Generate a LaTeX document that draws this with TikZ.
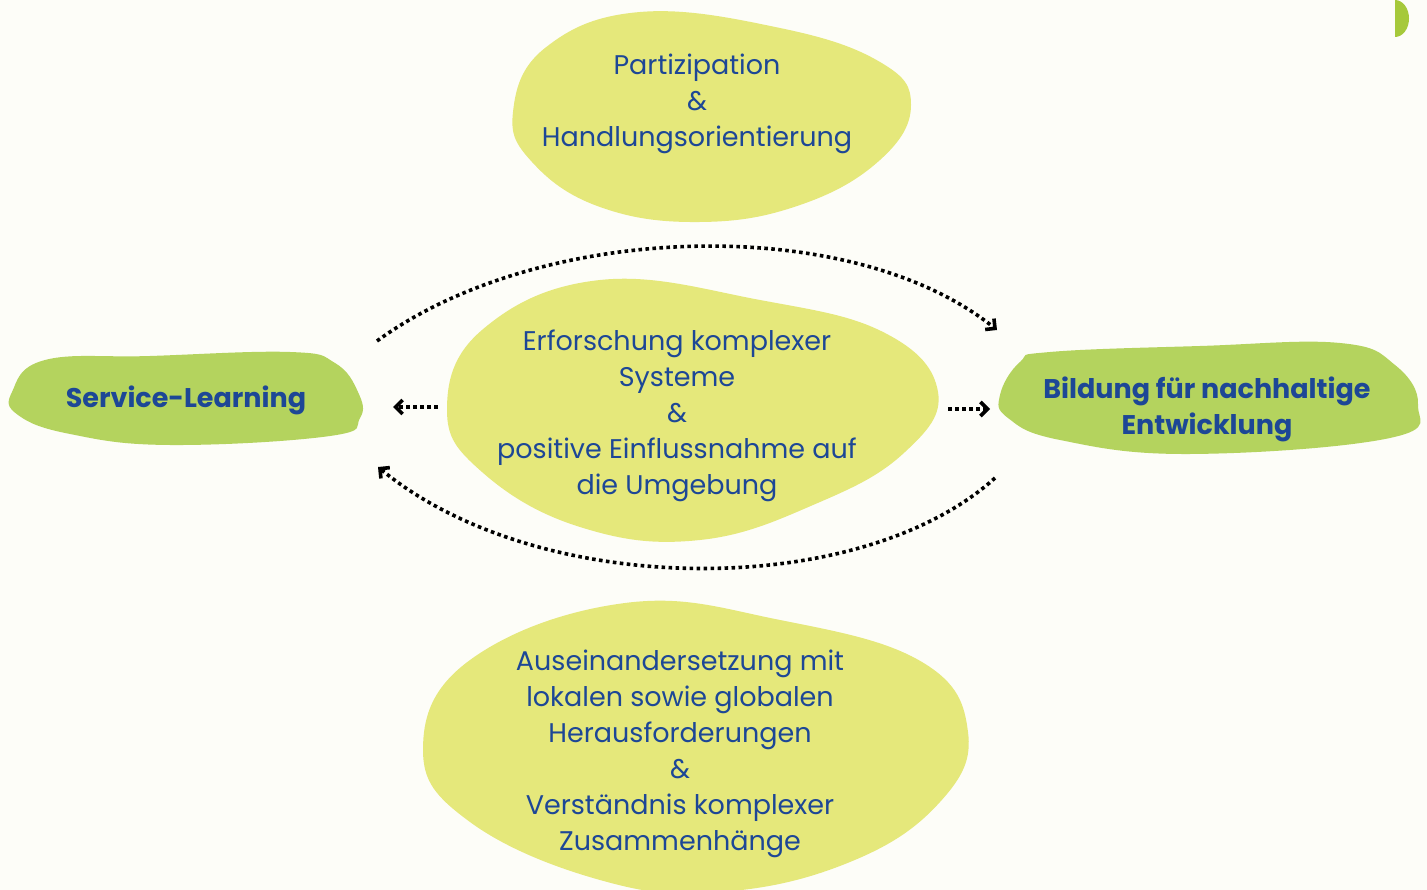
\documentclass[tikz,border=0pt]{standalone}
\usepackage{fontspec}
\setmainfont{Poppins}
\usetikzlibrary{arrows.meta}
\definecolor{bg}{HTML}{FDFDF8}
\definecolor{lightblob}{HTML}{E5E87B}
\definecolor{greenblob}{HTML}{B4D35E}
\definecolor{corner}{HTML}{A6C93B}
\definecolor{txtblue}{HTML}{1D4796}
\tikzset{
  blobA/.style={fill=lightblob, draw=none},
  blobB/.style={fill=greenblob, draw=none},
  lbl/.style={text=txtblue, align=center, font=\fontsize{27}{36}\selectfont, inner sep=0pt},
  blbl/.style={text=txtblue, align=center, font=\fontsize{27}{36}\selectfont\bfseries, inner sep=0pt},
  flow/.style={line width=3.6pt, dash pattern=on 3.6pt off 3.4pt, -{Straight Barb[length=7pt,width=14pt,line width=3.6pt]}}
}
\begin{document}
\begin{tikzpicture}[x=1pt,y=-1pt]
\useasboundingbox (0,0) rectangle (1427,890);
\fill[bg] (0,0) rectangle (1427,890);
% corner half disc
\fill[corner] (1395,0) arc[start angle=-90, end angle=90, x radius=14, y radius=18.5] -- cycle;
% blobs
\fill[blobA] plot[smooth cycle, tension=0.7] coordinates {(640,12) (780,28) (880,62) (911,105) (880,160) (800,205) (700,222) (600,207) (532,162) (513,112) (545,48)};
\fill[blobA] plot[smooth cycle, tension=0.7] coordinates {(600,280) (760,300) (885,333) (938,392) (905,452) (820,502) (700,540) (580,527) (482,472) (447,410) (482,330)};
\fill[blobA] plot[smooth cycle, tension=0.7] coordinates {(625,603) (780,620) (922,662) (968,732) (940,802) (850,862) (720,892) (600,880) (470,822) (423,750) (470,660)};
\fill[blobB] plot[smooth cycle, tension=0.7] coordinates {(45,360) (150,356) (290,352) (335,363) (358,392) (360,418) (330,436) (170,445) (70,434) (18,415) (12,392)};
\fill[blobB] plot[smooth cycle, tension=0.7] coordinates {(1050,352) (1200,346) (1340,343) (1395,365) (1418,405) (1390,438) (1190,454) (1060,440) (1008,418) (1000,395) (1020,362)};
% texts
\node[lbl] (part) at (697,104) {Partizipation\\\&\\Handlungsorientierung};
\node[lbl] (erf) at (677,416) {Erforschung komplexer\\Systeme\\\&\\positive Einflussnahme auf\\die Umgebung};
\node[lbl] (ause) at (680,754) {Auseinandersetzung mit\\lokalen sowie globalen\\Herausforderungen\\\&\\Verständnis komplexer\\Zusammenhänge};
\node[blbl] (sl) at (186,400) {Service-Learning};
\node[blbl] (bne) at (1207,409) {Bildung für nachhaltige\\Entwicklung};
% connector endpoints
\coordinate (tA) at (377,341);
\coordinate (tB) at (997,330);
\coordinate (bA) at (995,478);
\coordinate (bB) at (378,467);
\coordinate (lA) at (438,407);
\coordinate (lB) at (393,407);
\coordinate (rA) at (948,409);
\coordinate (rB) at (990,409);
\draw[flow] (tA) .. controls (540,222) and (850,212) .. (tB);
\draw[flow] (bA) .. controls (860,600) and (540,600) .. (bB);
\draw[flow] (lA) -- (lB);
\draw[flow] (rA) -- (rB);
\end{tikzpicture}
\end{document}
